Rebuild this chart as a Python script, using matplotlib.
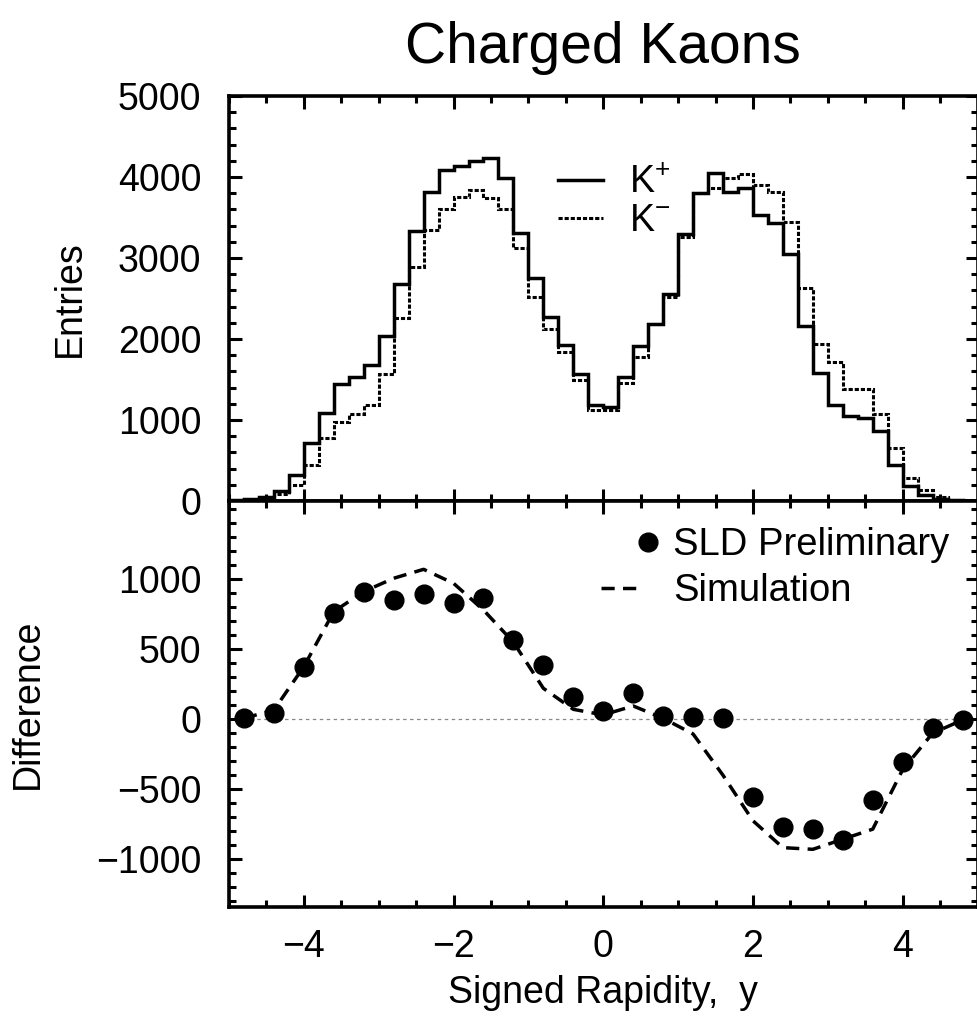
import numpy as np
import matplotlib
matplotlib.use("Agg")
import matplotlib.pyplot as plt
from matplotlib.ticker import MultipleLocator, FixedLocator
from matplotlib.lines import Line2D
from matplotlib.legend_handler import HandlerLine2D

plt.rcParams['font.family'] = ['Liberation Sans', 'DejaVu Sans']
plt.rcParams['mathtext.fontset'] = 'custom'
plt.rcParams['mathtext.rm'] = 'Liberation Sans'
plt.rcParams['mathtext.it'] = 'Liberation Sans:italic'
plt.rcParams['lines.scale_dashes'] = False

# ---------------- data ----------------
bin_edges = np.linspace(-5.0, 5.0, 51)

k_plus = [10, 20, 46, 127, 321, 710, 1090, 1450, 1530, 1680,
          2040, 2680, 3330, 3820, 4090, 4140, 4200, 4240, 3990, 3310,
          2750, 2270, 1930, 1570, 1185, 1165, 1530, 1910, 2190, 2560,
          3300, 3800, 4050, 3820, 3860, 3530, 3430, 3050, 2160, 1580,
          1185, 1050, 1020, 860, 440, 180, 75, 20, 10, 5]

k_minus = [5, 10, 40, 90, 200, 440, 780, 980, 1080, 1185,
           1570, 2255, 2890, 3345, 3610, 3750, 3840, 3740, 3610, 3120,
           2515, 2120, 1845, 1495, 1125, 1125, 1455, 1780, 2190, 2520,
           3265, 3800, 3860, 3985, 4040, 3900, 3820, 3450, 2625, 1940,
           1720, 1380, 1380, 1080, 650, 290, 135, 45, 15, 8]

rapidity = [-4.8, -4.4, -4.0, -3.6, -3.2, -2.8, -2.4, -2.0, -1.6, -1.2,
            -0.8, -0.4, 0.0, 0.4, 0.8, 1.2, 1.6, 2.0, 2.4, 2.8,
            3.2, 3.6, 4.0, 4.4, 4.8]

diff_data = [7, 47, 371, 762, 912, 852, 895, 833, 864, 566,
             388, 162, 59, 190, 24, 14, 7, -553, -767, -786,
             -862, -576, -307, -64, -5]

diff_sim = [7, 66, 376, 769, 912, 1007, 1071, 971, 780, 550,
            221, 71, 31, 95, 7, -105, -400, -725, -917, -929,
            -857, -785, -360, -100, -5]

x_ticks = [-4, -2, 0, 2, 4]
top_yticks = [0, 1000, 2000, 3000, 4000, 5000]
bot_yticks = [-1000, -500, 0, 500, 1000]


class RightMarkerHandler(HandlerLine2D):
    """Legend handler that puts a single marker near the right end of the handle."""
    def create_artists(self, legend, orig_handle, xdescent, ydescent, width,
                       height, fontsize, trans):
        artists = super().create_artists(legend, orig_handle, xdescent, ydescent,
                                         width, height, fontsize, trans)
        xm = -xdescent + width * 1.15
        for a in artists:
            if isinstance(a, Line2D):
                yd = np.asarray(a.get_ydata())
                a.set_data(np.full(len(yd), xm), yd)
        return artists


# ---------------- figure ----------------
W, H = 977, 1018
fig = plt.figure(figsize=(W / 100, H / 100), dpi=100)

left_px, right_px = 229, 977.5
top_px, mid_px, bot_px = 96, 501, 907
axw = (right_px - left_px) / W
ax1 = fig.add_axes([left_px / W, 1 - mid_px / H, axw, (mid_px - top_px) / H])
ax2 = fig.add_axes([left_px / W, 1 - bot_px / H, axw, (bot_px - mid_px) / H], sharex=ax1)

FS = 27
spine_w = 2.6
dot_style = (0, (3.0, 1.4))
dash_style = (0, (9.5, 6))

for ax in (ax1, ax2):
    for s in ax.spines.values():
        s.set_linewidth(spine_w)
    ax.tick_params(which='both', direction='in', top=True, right=True,
                   width=2.2, labelsize=FS)
    ax.tick_params(which='major', length=9)
    ax.tick_params(which='minor', length=5)
    ax.tick_params(axis='y', pad=20)
    ax.tick_params(axis='x', pad=16)
    ax.xaxis.set_major_locator(FixedLocator(x_ticks))
    ax.xaxis.set_minor_locator(MultipleLocator(0.5))

# top panel
ax1.stairs(k_plus, bin_edges, color='black', lw=2.5)
ax1.stairs(k_minus, bin_edges, color='black', lw=2.2, linestyle=dot_style)
ax1.set_xlim(-5, 5)
ax1.set_ylim(0, 5000)
ax1.yaxis.set_major_locator(FixedLocator(top_yticks))
ax1.yaxis.set_minor_locator(MultipleLocator(200))
ax1.tick_params(axis='x', labelbottom=False)
ax1.set_ylabel('Entries', fontsize=FS)
ax1.yaxis.set_label_coords(-0.188, 0.5)
ax1.set_title('Charged Kaons', fontsize=41, pad=24)

h1 = [Line2D([], [], color='black', lw=2.5),
      Line2D([], [], color='black', lw=2.2, linestyle=dot_style)]
ax1.legend(h1, [r'$\mathrm{K}^{+}$', r'$\mathrm{K}^{-}$'], loc='upper left',
           bbox_to_anchor=(0.4395, 0.83), frameon=False, fontsize=FS,
           handlelength=1.2, handletextpad=0.7, labelspacing=0.05,
           borderpad=0, borderaxespad=0)

# bottom panel
ax2.axhline(0, color='#888888', lw=0.9, linestyle=(0, (2.5, 2.5)), zorder=1)
ax2.plot(rapidity, diff_sim, color='black', lw=2.5, linestyle=dash_style, zorder=2)
ax2.plot(rapidity, diff_data, 'o', color='black', ms=13.5, zorder=3)
ax2.set_ylim(-1341, 1559)
ax2.yaxis.set_major_locator(FixedLocator(bot_yticks))
ax2.yaxis.set_minor_locator(MultipleLocator(100))
ax2.set_ylabel('Difference', fontsize=FS)
ax2.yaxis.set_label_coords(-0.245, 0.5)
ax2.set_xlabel('Signed Rapidity,  y', fontsize=FS, labelpad=7)

pts_handle = Line2D([], [], color='black', marker='o', ms=13.5, linestyle='None')
sim_handle = Line2D([], [], color='black', lw=2.5, linestyle=dash_style)
ax2.legend([pts_handle, sim_handle], ['SLD Preliminary', 'Simulation'],
           loc='upper right', bbox_to_anchor=(0.962, 0.935), frameon=False,
           fontsize=27.5, handlelength=1.07, handletextpad=0.8, labelspacing=0.25,
           borderpad=0, borderaxespad=0,
           handler_map={pts_handle: RightMarkerHandler(numpoints=1)})

fig.savefig('out.png', dpi=100)
